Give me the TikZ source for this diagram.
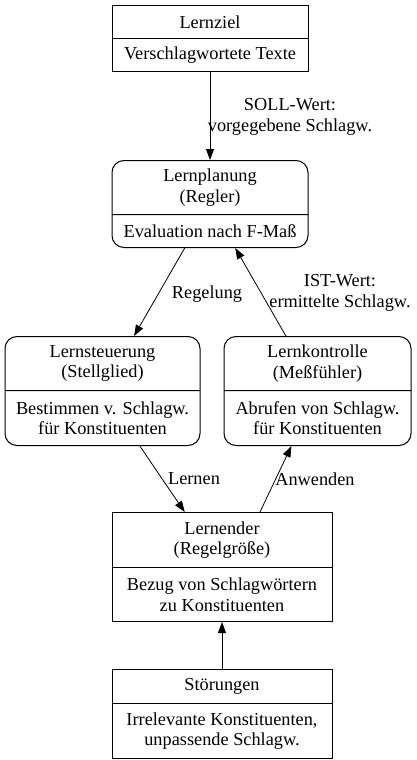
\documentclass[tikz,border=0pt]{standalone}
\usepackage{fontspec}
\setmainfont{Liberation Serif}
\usetikzlibrary{arrows.meta,shapes.multipart}
\newcommand{\gvfont}{\fontsize{18.3pt}{20.5pt}\selectfont}
\newcommand{\recpart}[3]{\parbox[c][#1][c]{#2}{\centering #3}}

\begin{document}
\begin{tikzpicture}[x=1pt, y=-1pt,
  record/.style={rectangle split, rectangle split parts=2, draw=black,
    line width=1pt, inner sep=0pt, anchor=north, font=\gvfont},
  mrecord/.style={record, rounded corners=12pt},
  lbl/.style={inner sep=0pt, align=center, font=\gvfont},
  arrow/.style={-{Triangle[length=11pt,width=8pt]}, line width=0.8pt}
]
\useasboundingbox (0,0) rectangle (416,760);

% Goal
\node[record] (lernziel) at (210,5)
  {\recpart{32pt}{196pt}{Lernziel}
   \nodepart{two}\recpart{32pt}{196pt}{Verschlagwortete Texte}};

% Controller
\node[mrecord] (lernplanung) at (210,160)
  {\recpart{53pt}{196pt}{Lernplanung\\(Regler)}
   \nodepart{two}\recpart{32pt}{196pt}{Evaluation nach F-Maß}};

% Actuator and sensor
\node[mrecord] (lernsteuerung) at (102.5,336)
  {\recpart{53pt}{195pt}{Lernsteuerung\\(Stellglied)}
   \nodepart{two}\recpart{54pt}{195pt}{Bestimmen v. Schlagw.\\für Konstituenten}};
\node[mrecord] (lernkontrolle) at (317.5,336)
  {\recpart{53pt}{187pt}{Lernkontrolle\\(Meßfühler)}
   \nodepart{two}\recpart{54pt}{187pt}{Abrufen von Schlagw.\\für Konstituenten}};

% Controlled system
\node[record] (lernender) at (222,512)
  {\recpart{54pt}{220pt}{Lernender\\(Regelgröße)}
   \nodepart{two}\recpart{53pt}{220pt}{Bezug von Schlagwörtern\\zu Konstituenten}};

% Disturbance
\node[record] (stoerungen) at (222,669)
  {\recpart{33pt}{220pt}{Störungen}
   \nodepart{two}\recpart{54pt}{220pt}{Irrelevante Konstituenten,\\unpassende Schlagw.}};

% Labels
\node[lbl] (soll) at (290,117) {SOLL-Wert:\\vorgegebene Schlagw.};
\node[lbl] (regelung) at (207,294) {Regelung};
\node[lbl] (ist) at (340,293) {IST-Wert:\\ermittelte Schlagw.};
\node[lbl] (lernen) at (194,479) {Lernen};
\node[lbl] (anwenden) at (315,479) {Anwenden};

% Arrows
\draw[arrow] (lernziel) -- (lernplanung);
\draw[arrow] (lernplanung) -- (lernsteuerung);
\draw[arrow] (lernkontrolle) -- (lernplanung);
\draw[arrow] (lernsteuerung) -- (lernender);
\draw[arrow] ([xshift=38pt]lernender.north) -- (lernkontrolle);
\draw[arrow] (stoerungen) -- (lernender);
\end{tikzpicture}
\end{document}
